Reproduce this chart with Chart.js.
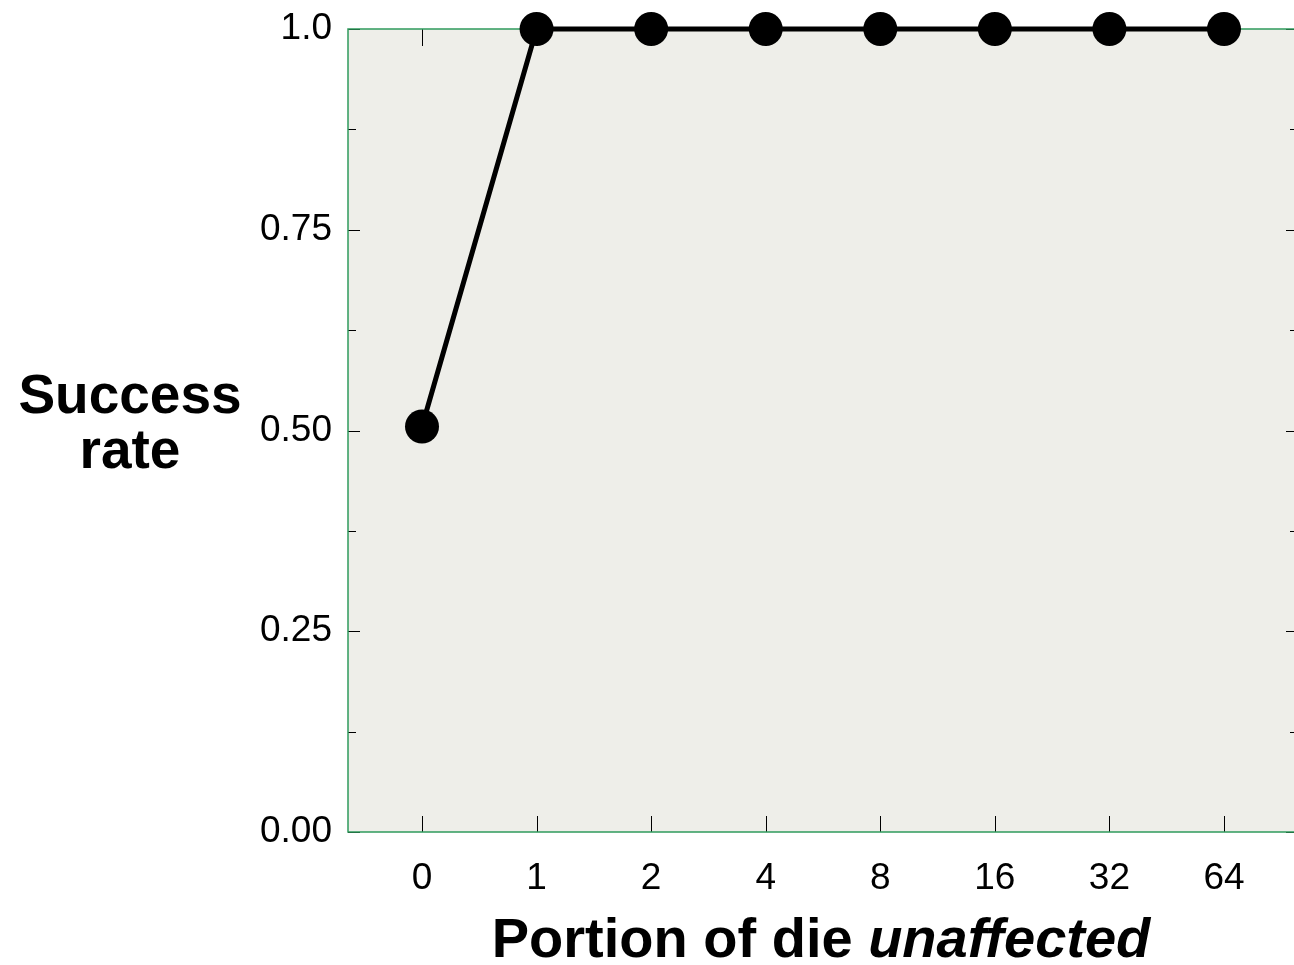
<!DOCTYPE html>
<html>
<head>
<meta charset="utf-8">
<script src="https://cdn.jsdelivr.net/npm/chart.js@4"></script>
<style>
  body { margin: 0; background: #fff; overflow: hidden; }
  canvas { display: block; }
</style>
</head>
<body>
<!-- canvas is a bit wider than the window: the plot frame runs past the right edge -->
<canvas id="successChart" width="1315" height="965"></canvas>
<script>
// data
const categories = ['0', '1', '2', '4', '8', '16', '32', '64'];
const successRate = [0.505, 1, 1, 1, 1, 1, 1, 1];
const yTickValues = [0, 0.25, 0.5, 0.75, 1];
const yTickLabels = ['0.00', '0.25', '0.50', '0.75', '1.0'];
const yMinorTicks = [0.125, 0.375, 0.625, 0.875];

const FONT = '"Liberation Sans", Arial, Helvetica, sans-serif';
const frameGreen = '#2f9a5c';

// background, green frame and inward tick marks (top/bottom, left/right)
const framePlugin = {
    id: 'frame',
    beforeDatasetsDraw(chart) {
        const { ctx, chartArea: a, scales: { x, y } } = chart;
        ctx.save();
        ctx.fillStyle = '#eeeee9';
        ctx.fillRect(a.left, a.top, a.right - a.left, a.bottom - a.top);

        ctx.strokeStyle = '#000';
        ctx.lineWidth = 1;
        ctx.beginPath();
        categories.forEach((c, i) => {
            const px = Math.round(x.getPixelForValue(i)) + 0.5;
            ctx.moveTo(px, a.bottom); ctx.lineTo(px, a.bottom - 16);
            ctx.moveTo(px, a.top); ctx.lineTo(px, a.top + 17);
        });
        yTickValues.forEach(v => {
            const py = Math.round(y.getPixelForValue(v)) + 0.5;
            ctx.moveTo(a.left, py); ctx.lineTo(a.left + 12, py);
            ctx.moveTo(a.right, py); ctx.lineTo(a.right - 12, py);
        });
        yMinorTicks.forEach(v => {
            const py = Math.round(y.getPixelForValue(v)) + 0.5;
            ctx.moveTo(a.left, py); ctx.lineTo(a.left + 8, py);
            ctx.moveTo(a.right, py); ctx.lineTo(a.right - 8, py);
        });
        ctx.stroke();

        ctx.strokeStyle = frameGreen;
        ctx.lineWidth = 1.5;
        ctx.beginPath();
        ctx.moveTo(a.right, a.top); ctx.lineTo(a.left, a.top);
        ctx.lineTo(a.left, a.bottom); ctx.lineTo(a.right, a.bottom);
        ctx.stroke();
        ctx.restore();
    },
    afterDraw(chart) {
        const { ctx } = chart;
        ctx.save();
        ctx.fillStyle = '#000';
        ctx.textBaseline = 'alphabetic';

        // y title, two centred lines
        ctx.font = 'bold 55px ' + FONT;
        ctx.textAlign = 'center';
        ctx.fillText('Success', 130, 413);
        ctx.fillText('rate', 130, 468);

        // x title with italic last word
        const partA = 'Portion of die ';
        const partB = 'unaffected';
        ctx.textAlign = 'left';
        ctx.font = 'bold 56px ' + FONT;
        const wA = ctx.measureText(partA).width;
        ctx.font = 'italic bold 56px ' + FONT;
        const wB = ctx.measureText(partB).width;
        const start = 821 - (wA + wB) / 2;
        ctx.font = 'bold 56px ' + FONT;
        ctx.fillText(partA, start, 957);
        ctx.font = 'italic bold 56px ' + FONT;
        ctx.fillText(partB, start + wA, 957);
        ctx.restore();
    }
};

function noOverhang(s) {
    s.paddingLeft = 0; s.paddingRight = 0;
    s.paddingTop = 0; s.paddingBottom = 0;
}

new Chart(document.getElementById('successChart'), {
    type: 'line',
    data: {
        datasets: [{
            data: successRate.map((v, i) => ({ x: i, y: v })),
            borderColor: '#000',
            borderWidth: 5,
            pointRadius: 17,
            pointHoverRadius: 17,
            pointBackgroundColor: '#000',
            pointBorderColor: '#000',
            pointBorderWidth: 0,
            tension: 0,
            clip: false
        }]
    },
    options: {
        responsive: false,
        animation: false,
        devicePixelRatio: 1,
        layout: { padding: { top: 29, right: 0, left: 0, bottom: 0 } },
        plugins: { legend: { display: false }, tooltip: { enabled: false } },
        scales: {
            x: {
                type: 'linear',
                min: -0.646,
                max: 7.646,
                grid: { display: false },
                border: { display: false },
                afterBuildTicks: s => { s.ticks = categories.map((c, i) => ({ value: i })); },
                afterFit: s => { s.height = 133; noOverhang(s); },
                ticks: {
                    callback: v => categories[v],
                    color: '#000',
                    font: { family: FONT, size: 37 },
                    padding: 17,
                    maxRotation: 0,
                    autoSkip: false
                }
            },
            y: {
                min: 0,
                max: 1,
                grid: { display: false },
                border: { display: false },
                afterBuildTicks: s => { s.ticks = yTickValues.map(v => ({ value: v })); },
                afterFit: s => { s.width = 348; noOverhang(s); },
                ticks: {
                    callback: v => yTickLabels[yTickValues.indexOf(v)],
                    color: '#000',
                    font: { family: FONT, size: 37 },
                    padding: 8
                }
            }
        }
    },
    plugins: [framePlugin]
});
</script>
</body>
</html>
